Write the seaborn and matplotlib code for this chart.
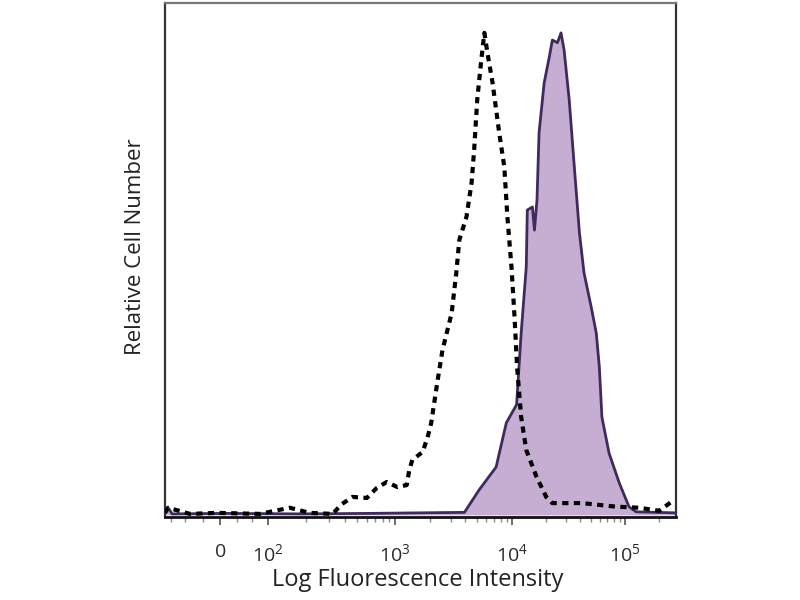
import numpy as np
import pandas as pd
import matplotlib
matplotlib.use("Agg")
import matplotlib.pyplot as plt
import seaborn as sns

# ---- data (x in display channel units 0-1000, y relative cell number) ----
iso_x = [0, 6, 49, 102, 186, 244, 283, 328, 346, 367, 395, 414, 434, 455, 473, 478,
         484, 504, 514, 521, 533, 543, 561, 570, 576, 590, 600, 605, 611, 619, 625,
         631, 641, 648, 654, 664, 670, 678, 684, 689, 697, 707, 727, 746, 758, 816,
         883, 928, 967, 996]
iso_y = [0.4, 1.4, 0.2, 0.4, 0.2, 1.4, 0.4, 0.2, 2.1, 3.5, 3.3, 5.2, 6.4, 5.4, 5.8, 8.7,
         10.7, 12.2, 15.1, 17.9, 25.8, 32.0, 39.2, 47.0, 53.4, 57.9, 64.5, 70.9, 80.6, 88.4, 93.6,
         89.7, 83.9, 78.7, 74.2, 67.6, 57.9, 48.2, 38.5, 28.7, 19.0, 12.6, 7.4, 3.5, 2.3, 2.3,
         1.6, 1.4, 0.8, 2.9]

stain_x = [0, 6, 14, 120, 264, 400, 586, 615, 648, 668, 688, 697, 707, 709, 719, 723, 728,
           732, 742, 752, 758, 768, 775, 781, 791, 801, 811, 820, 834, 844, 850, 855,
           869, 889, 908, 922, 1000]
stain_y = [0.3, 1.4, 0.2, 0.3, 0.2, 0.3, 0.5, 4.9, 9.3, 17.9, 21.4, 35.3, 48.2, 59.2, 59.8, 55.3, 61.2,
           74.2, 83.9, 88.9, 92.2, 91.7, 93.6, 90.3, 80.6, 67.6, 54.8, 47.0, 40.4, 35.3, 28.7, 19.0,
           12.0, 6.2, 1.6, 0.6, 0.4]

tick_pos = [108, 202, 450, 679, 900]
tick_labels = ["0", r"$\mathregular{10^{2}}$", r"$\mathregular{10^{3}}$",
               r"$\mathregular{10^{4}}$", r"$\mathregular{10^{5}}$"]
decade_pos = [202, 450, 679, 900]
neg_minor = [12, 40, 75, 140, 170]

sns.set_style("white")
plt.rcParams["font.family"] = ["Open Sans", "DejaVu Sans"]
plt.rcParams["mathtext.fontset"] = "custom"
plt.rcParams["mathtext.rm"] = "Open Sans"

fig = plt.figure(figsize=(8, 6), dpi=100)
ax = fig.add_axes([165 / 800, (600 - 517) / 600, (676 - 165) / 800, (517 - 3) / 600])

stain = pd.DataFrame({"x": stain_x, "y": stain_y})
iso = pd.DataFrame({"x": iso_x, "y": iso_y})

ax.fill_between(stain["x"], stain["y"], 0, color="#c6aed3", linewidth=0, zorder=1)
sns.lineplot(data=stain, x="x", y="y", ax=ax, color="#3f2a5e", linewidth=2.0,
             sort=False, estimator=None, zorder=3)
sns.lineplot(data=iso, x="x", y="y", ax=ax, color="black", linewidth=3.0,
             sort=False, estimator=None, zorder=4, dashes=False)
ax.lines[-1].set_dashes((1.5, 1.3))

ax.set_xlim(0, 1000)
ax.set_ylim(-0.4, 99.4)
ax.set_yticks([])
ax.set_xticks(tick_pos)
ax.set_xticklabels(tick_labels, fontsize=14, color="#2a2a2a")
minor = list(neg_minor)
for a, b in zip(decade_pos[:-1], decade_pos[1:]):
    for m in range(2, 10):
        minor.append(a + (b - a) * np.log10(m))
for m in range(2, 4):
    minor.append(900 + 221 * np.log10(m))
ax.set_xticks([v for v in minor if v < 1000], minor=True)
ax.tick_params(axis="x", which="major", length=6, width=1.2, color="#555555", pad=13, bottom=True)
ax.tick_params(axis="x", which="minor", length=3.5, width=1.0, color="#888888", bottom=True)

ax.set_xlabel("Log Fluorescence Intensity", fontsize=17, color="#222222", labelpad=2, x=0.495)
ax.set_ylabel("Relative Cell Number", fontsize=16, color="#222222", labelpad=14, y=0.525)

for side in ["left", "right"]:
    ax.spines[side].set_color("#333333")
    ax.spines[side].set_linewidth(1.6)
ax.spines["top"].set_color("#777777")
ax.spines["top"].set_linewidth(1.6)
ax.spines["bottom"].set_color("#111111")
ax.spines["bottom"].set_linewidth(2.0)

fig.savefig("out.png", dpi=100)
